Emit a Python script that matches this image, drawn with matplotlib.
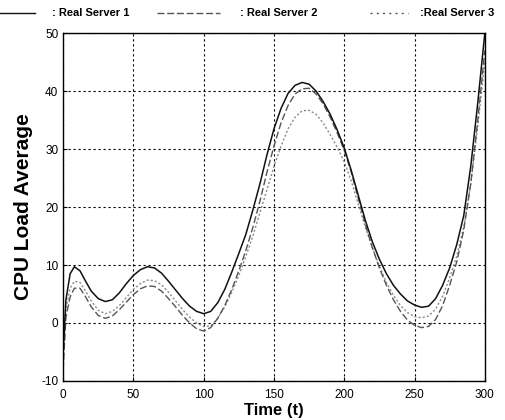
import numpy as np
import matplotlib
matplotlib.use('Agg')
import matplotlib.pyplot as plt
from matplotlib.lines import Line2D

plt.rcParams['font.family'] = ['Liberation Sans', 'DejaVu Sans']
plt.rcParams['axes.unicode_minus'] = False

# Time axis (t)
t = [0, 2, 5, 8, 12, 16, 20, 25, 30, 35, 40, 45, 50, 55, 60, 65, 70, 75, 80, 85,
     90, 95, 100, 105, 110, 115, 120, 125, 130, 135, 140, 145, 150, 155, 160, 165,
     170, 175, 180, 185, 190, 195, 200, 205, 210, 215, 220, 225, 230, 235, 240,
     245, 250, 255, 260, 265, 270, 275, 280, 285, 290, 295, 300]

# CPU load average for each server
server1 = [-5, 4, 8.5, 9.7, 9.0, 7.2, 5.5, 4.2, 3.7, 4.0, 5.2, 6.8, 8.2, 9.2, 9.7,
           9.5, 8.6, 7.2, 5.7, 4.2, 2.9, 2.0, 1.6, 2.0, 3.5, 5.8, 8.8, 12.0, 15.3,
           19.5, 24, 29, 33.5, 37, 39.6, 41, 41.5, 41.2, 40, 38.2, 36, 33.3, 30.2,
           26.3, 22, 17.7, 14, 11, 8.5, 6.5, 5, 3.8, 3.1, 2.7, 2.9, 4.2, 6.5,
           9.5, 13.5, 18.5, 27, 38, 50]
server2 = [-8, 1, 4.5, 6, 6.0, 4.5, 2.8, 1.3, 0.8, 1.2, 2.3, 3.6, 4.9, 5.9, 6.4,
           6.3, 5.5, 4.2, 2.8, 1.3, 0.0, -1.0, -1.4, -0.8, 0.8, 3.0, 5.8, 9, 12.5,
           16.5, 21, 26, 30.5, 34.5, 37.5, 39.5, 40.4, 40.5, 39.5, 37.8, 35.5, 32.8,
           29.8, 26, 21.5, 17, 13, 9.5, 6.5, 4, 2, 0.5, -0.4, -0.8, -0.6, 0.6, 3,
           6.5, 10.5, 16, 24, 35, 47]
server3 = [-6, 2.5, 6, 7.2, 7.0, 5.5, 3.8, 2.2, 1.6, 2.0, 3.0, 4.4, 5.8, 6.8, 7.4,
           7.3, 6.6, 5.3, 3.8, 2.3, 1.0, 0.0, -0.6, -0.5, 0.8, 2.8, 5.3, 8.2, 11.5,
           15, 19, 23, 27, 30.5, 33.5, 35.5, 36.6, 36.7, 36, 34.5, 32.5, 30.3, 27.8,
           24.5, 20.5, 16.5, 13, 9.8, 7, 4.8, 3, 1.8, 1.1, 0.9, 1.2, 2.4, 4.6, 7.8,
           11.5, 16.5, 24, 34, 45]

xticks = [0, 50, 100, 150, 200, 250, 300]
yticks = [-10, 0, 10, 20, 30, 40, 50]

fig = plt.figure(figsize=(5.05, 4.20), dpi=100)
ax = fig.add_axes([0.125, 0.093, 0.835, 0.828])

ax.plot(t, server3, color='#8a8a8a', lw=1.0, linestyle=(0, (1.5, 1.5)))
ax.plot(t, server2, color='#555555', lw=1.0, linestyle=(0, (5, 2)))
ax.plot(t, server1, color='#111111', lw=1.1, linestyle='-')

ax.set_xlim(0, 300)
ax.set_ylim(-10, 50)
ax.set_xticks(xticks)
ax.set_yticks(yticks)
ax.tick_params(direction='in', labelsize=8.5, length=3)
ax.tick_params(axis='x', pad=6)
ax.grid(True, color='black', linestyle=(0, (2, 2.5)), lw=0.8)
for s in ax.spines.values():
    s.set_linewidth(1.0)

ax.set_xlabel('Time (t)', fontsize=12, fontweight='bold', labelpad=1)
ax.set_ylabel('CPU Load Average', fontsize=15, fontweight='bold', labelpad=6)

# legend strip across the top
ly = 1 - 13 / 420
fig.add_artist(Line2D([0 / 505, 35 / 505], [ly, ly], color='#111111', lw=1.0))
fig.text(52 / 505, ly, ': Real Server 1', fontsize=8, fontweight='bold', va='center')
fig.add_artist(Line2D([157 / 505, 220 / 505], [ly, ly], color='#555555', lw=1.0,
                      linestyle=(0, (5, 2))))
fig.text(240 / 505, ly, ': Real Server 2', fontsize=8, fontweight='bold', va='center')
fig.add_artist(Line2D([370 / 505, 408 / 505], [ly, ly], color='#555555', lw=1.0,
                      linestyle=(0, (1.5, 3))))
fig.text(420 / 505, ly, ':Real Server 3', fontsize=8, fontweight='bold', va='center')

fig.savefig('out.png', dpi=100)
